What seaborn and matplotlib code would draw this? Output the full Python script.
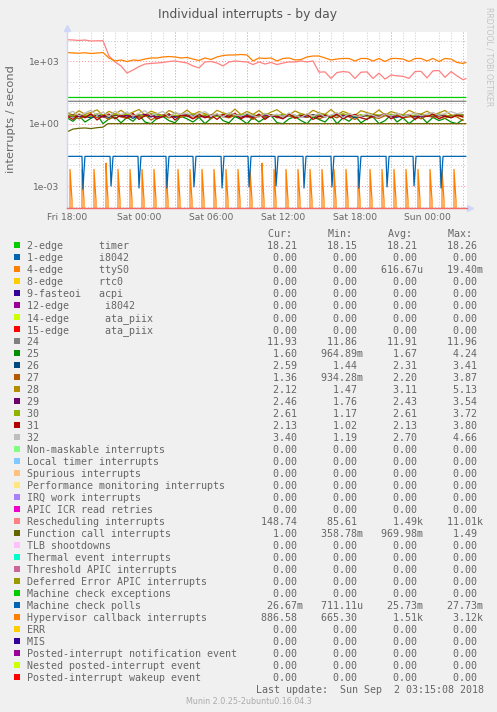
import numpy as np
import pandas as pd
import matplotlib
matplotlib.use("Agg")
import matplotlib.pyplot as plt
from matplotlib.patches import Rectangle
from matplotlib.ticker import NullFormatter
import seaborn as sns

W, H = 497, 712

# axis ticks (x in hours since Fri 18:00)
x_ticks = [0, 6, 12, 18, 24, 30]
x_tick_labels = ["Fri 18:00", "Sat 00:00", "Sat 06:00", "Sat 12:00", "Sat 18:00", "Sun 00:00"]
y_ticks = [1e-3, 1e0, 1e3]
y_tick_labels = ["1e-03", "1e+00", "1e+03"]

# half-hour samples for the busy series
band_hours = np.arange(0, 33.5, 0.5)
top_hours = np.append(band_hours, 33.25)

hyper_vals = [2650, 2520, 2460, 2580, 2380, 2500, 2650, 1450, 1040, 1160,
              980, 1160, 1100, 1290, 1450, 1450, 1620, 1700, 1620, 1450,
              1530, 1290, 1100, 1450, 1220, 1620, 1900, 2020, 2020, 2130,
              2020, 1040, 1450, 1370, 1450, 1040, 1370, 1450, 1160, 1220,
              1620, 1800, 1800, 1450, 1160, 1290, 1370, 1370, 1040, 1370,
              1370, 1040, 1370, 980, 1370, 1370, 1290, 980, 1370, 1370,
              1040, 1370, 980, 1370, 1290, 880, 790, 886.58]

resched_vals = [11000, 10600, 10100, 10600, 9500, 9700, 9800, 1800, 930, 600,
                275, 380, 560, 740, 790, 830, 880, 980, 1040, 930,
                830, 600, 480, 930, 980, 830, 600, 930, 1040, 980,
                930, 700, 930, 740, 880, 700, 830, 930, 930, 1040,
                930, 1040, 300, 310, 150, 290, 320, 300, 150, 300,
                310, 150, 270, 140, 220, 200, 190, 150, 320, 330,
                160, 350, 360, 170, 320, 200, 130, 148.74]

irq25 = [1.9, 1.3, 2.4, 1.2, 1.8, 2.7, 1.0, 1.7, 2.1, 1.1,
         2.0, 1.3, 2.6, 1.2, 1.0, 1.8, 2.2, 1.4, 1.1, 2.3,
         1.7, 1.2, 2.0, 1.0, 1.8, 2.9, 1.4, 1.1, 2.2, 1.6,
         1.0, 2.0, 1.2, 1.9, 2.5, 1.1, 1.0, 1.7, 2.2, 1.4,
         1.0, 2.1, 1.6, 1.2, 2.4, 1.0, 1.9, 1.3, 2.3, 1.1,
         1.7, 2.1, 1.0, 1.4, 2.6, 1.2, 1.9, 1.0, 1.7, 2.2,
         1.1, 2.0, 1.4, 1.8, 1.2, 1.0, 1.6]
irq26 = [2.4, 2.1, 2.6, 2.2, 1.9, 2.5, 2.3, 2.0, 2.7, 2.2,
         2.4, 1.8, 2.6, 2.3, 2.1, 2.9, 2.2, 2.4, 2.0, 2.5,
         2.3, 2.7, 2.1, 2.4, 1.9, 2.6, 2.2, 2.5, 2.3, 2.0,
         2.8, 2.2, 2.4, 2.1, 2.6, 2.3, 1.8, 2.5, 2.2, 2.4,
         2.0, 2.7, 2.3, 2.1, 2.5, 2.4, 2.2, 2.6, 1.9, 2.3,
         2.5, 2.1, 2.4, 2.7, 2.2, 2.0, 2.6, 2.3, 2.1, 2.5,
         2.4, 2.2, 2.7, 2.3, 2.0, 2.4, 2.6]
irq27 = [2.0, 2.5, 1.7, 2.3, 2.8, 1.9, 2.2, 1.6, 2.6, 2.1,
         1.8, 2.4, 2.0, 2.7, 1.5, 2.2, 2.5, 1.9, 2.3, 2.0,
         2.6, 1.8, 2.1, 2.4, 1.7, 2.9, 2.2, 1.9, 2.5, 2.0,
         2.3, 1.6, 2.4, 2.1, 2.7, 1.9, 2.2, 2.5, 1.8, 2.3,
         2.0, 2.6, 1.7, 2.2, 2.4, 1.9, 2.8, 2.1, 1.6, 2.3,
         2.5, 2.0, 1.8, 2.4, 2.2, 2.6, 1.9, 2.1, 2.3, 1.7,
         2.4, 2.0, 2.2, 1.8, 2.5, 2.1, 1.4]
irq28 = [3.4, 2.6, 4.2, 2.8, 3.5, 4.6, 2.5, 3.9, 2.9, 4.4,
         2.7, 3.6, 4.8, 2.6, 4.0, 3.1, 2.4, 4.3, 3.2, 2.8,
         4.5, 2.7, 3.8, 3.0, 2.5, 4.4, 3.3, 2.8, 5.0, 2.7,
         3.9, 2.8, 4.3, 2.5, 3.6, 4.7, 2.9, 2.6, 4.1, 3.0,
         2.6, 4.4, 3.3, 2.8, 4.8, 2.7, 3.9, 3.0, 2.5, 4.2,
         3.4, 2.8, 4.6, 2.6, 3.8, 3.1, 2.7, 4.4, 3.2, 2.9,
         4.0, 2.7, 3.3, 4.3, 2.6, 2.4, 2.1]
irq29 = [2.4, 2.6, 2.2, 2.5, 2.3, 2.7, 2.1, 2.4, 2.6, 2.3,
         2.5, 2.2, 2.4, 2.8, 2.3, 2.1, 2.6, 2.4, 2.2, 2.5,
         2.7, 2.3, 2.4, 2.0, 2.5, 2.6, 2.2, 2.4, 2.8, 2.3,
         2.1, 2.5, 2.4, 2.6, 2.3, 2.2, 2.7, 2.4, 2.5, 2.1,
         2.4, 2.6, 2.3, 2.5, 2.2, 2.8, 2.4, 2.3, 2.6, 2.1,
         2.5, 2.3, 2.4, 2.7, 2.2, 2.5, 2.4, 2.6, 2.3, 2.2,
         2.5, 2.4, 2.7, 2.3, 2.4, 2.6, 2.5]
irq30 = [2.7, 2.4, 2.9, 2.5, 2.2, 3.0, 2.6, 2.3, 2.8, 2.5,
         2.9, 2.4, 2.7, 2.2, 3.1, 2.6, 2.4, 2.8, 2.5, 2.3,
         2.6, 3.0, 2.4, 2.7, 2.5, 2.2, 2.9, 2.6, 2.4, 2.8,
         2.5, 2.7, 2.3, 3.1, 2.6, 2.4, 2.8, 2.5, 2.2, 2.9,
         2.6, 2.4, 2.7, 2.8, 2.3, 2.6, 3.0, 2.5, 2.4, 2.7,
         2.2, 2.8, 2.6, 2.5, 2.9, 2.4, 2.7, 2.3, 2.6, 2.8,
         2.5, 2.4, 2.9, 2.6, 2.3, 2.7, 2.6]
irq31 = [2.3, 1.6, 2.8, 1.9, 3.0, 1.5, 2.4, 2.9, 1.7, 2.6,
         1.9, 3.1, 1.6, 2.4, 2.8, 1.7, 2.2, 3.0, 1.5, 2.6,
         2.4, 1.7, 2.9, 1.9, 2.6, 1.6, 2.8, 2.1, 3.2, 1.7,
         2.5, 1.9, 2.9, 1.6, 2.6, 2.1, 1.7, 3.0, 1.9, 2.4,
         2.8, 1.6, 2.2, 2.6, 1.9, 2.9, 1.7, 2.4, 2.8, 1.9,
         1.6, 2.6, 2.1, 3.0, 1.7, 2.4, 1.9, 2.8, 1.6, 2.6,
         2.2, 2.9, 1.7, 2.4, 1.9, 2.6, 2.1]
irq32 = [3.1, 3.9, 2.4, 3.3, 4.4, 2.5, 3.6, 2.2, 4.0, 2.7,
         3.7, 2.3, 3.2, 4.2, 2.5, 3.0, 3.9, 2.1, 3.5, 2.8,
         3.3, 2.2, 3.1, 3.8, 2.4, 3.0, 2.1, 3.4, 2.7, 2.3,
         3.2, 2.4, 2.0, 3.1, 2.3, 2.9, 2.1, 3.3, 2.5, 2.0,
         3.0, 2.3, 3.2, 2.1, 2.6, 3.4, 2.0, 3.0, 2.4, 2.2,
         3.1, 2.5, 2.0, 3.0, 2.3, 3.3, 2.2, 2.7, 3.2, 2.4,
         2.9, 3.5, 2.5, 3.1, 3.8, 3.0, 3.4]

flat_hours = [0, 8, 16, 24, 33.25]
timer_vals = [18.20, 18.22, 18.19, 18.21, 18.21]
irq24_vals = [11.93, 11.90, 11.88, 11.95, 11.93]

fcall_hours = [0, 0.5, 1, 1.5, 2, 2.5, 3, 3.4, 33.25]
fcall_vals = [0.40, 0.55, 0.60, 0.62, 0.58, 0.64, 0.68, 1.00, 1.00]

# machine check polls: flat level with short dips
poll_level = 0.0267
poll_dip_hours = [1.33, 3.67, 6.0, 8.33, 10.58, 12.92, 15.17, 17.42,
                  19.75, 22.08, 24.33, 26.67, 28.92, 31.17]
poll_dip_vals = [0.0007, 0.0010, 0.0008, 0.0008, 0.0009, 0.0008, 0.0009,
                 0.0010, 0.0008, 0.0009, 0.0008, 0.0009, 0.0010, 0.0008]
poll_recover = 0.005

# ttyS0: hourly bursts, zero in between
tty_spike_hours = [0.25, 1.25, 2.25, 3.25, 4.25, 5.25, 6.25, 7.25, 8.25, 9.25,
                   10.25, 11.25, 12.25, 13.25, 14.25, 15.25, 16.25, 17.25, 18.25,
                   19.25, 20.25, 21.25, 22.25, 23.25, 24.25, 25.25, 26.25, 27.25,
                   28.25, 29.25, 30.25, 31.25, 32.25]
tty_spike_vals = [0.0063, 0.0063, 0.0063, 0.0125, 0.0063, 0.0063, 0.0063, 0.0063,
                  0.0063, 0.0063, 0.0063, 0.0063, 0.0063, 0.0063, 0.0063, 0.0063,
                  0.0125, 0.0063, 0.0063, 0.0063, 0.0063, 0.0063, 0.0063, 0.0063,
                  0.0063, 0.0063, 0.0063, 0.0063, 0.0063, 0.0063, 0.0063, 0.0063,
                  0.0063]
tty_tail = [0.0012, 0.0002]

# legend table
legend_names = [
    "2-edge      timer", "1-edge      i8042", "4-edge      ttyS0", "8-edge      rtc0",
    "9-fasteoi   acpi", "12-edge      i8042", "14-edge      ata_piix", "15-edge      ata_piix",
    "24", "25", "26", "27", "28", "29", "30", "31", "32",
    "Non-maskable interrupts", "Local timer interrupts", "Spurious interrupts",
    "Performance monitoring interrupts", "IRQ work interrupts", "APIC ICR read retries",
    "Rescheduling interrupts", "Function call interrupts", "TLB shootdowns",
    "Thermal event interrupts", "Threshold APIC interrupts", "Deferred Error APIC interrupts",
    "Machine check exceptions", "Machine check polls", "Hypervisor callback interrupts",
    "ERR", "MIS", "Posted-interrupt notification event", "Nested posted-interrupt event",
    "Posted-interrupt wakeup event",
]
cur_vals = ["18.21", "0.00", "0.00", "0.00", "0.00", "0.00", "0.00", "0.00",
            "11.93", "1.60", "2.59", "1.36", "2.12", "2.46", "2.61", "2.13", "3.40",
            "0.00", "0.00", "0.00", "0.00", "0.00", "0.00",
            "148.74", "1.00", "0.00", "0.00", "0.00", "0.00", "0.00",
            "26.67m", "886.58", "0.00", "0.00", "0.00", "0.00", "0.00"]
min_vals = ["18.15", "0.00", "0.00", "0.00", "0.00", "0.00", "0.00", "0.00",
            "11.86", "964.89m", "1.44", "934.28m", "1.47", "1.76", "1.17", "1.02", "1.19",
            "0.00", "0.00", "0.00", "0.00", "0.00", "0.00",
            "85.61", "358.78m", "0.00", "0.00", "0.00", "0.00", "0.00",
            "711.11u", "665.30", "0.00", "0.00", "0.00", "0.00", "0.00"]
avg_vals = ["18.21", "0.00", "616.67u", "0.00", "0.00", "0.00", "0.00", "0.00",
            "11.91", "1.67", "2.31", "2.20", "3.11", "2.43", "2.61", "2.13", "2.70",
            "0.00", "0.00", "0.00", "0.00", "0.00", "0.00",
            "1.49k", "969.98m", "0.00", "0.00", "0.00", "0.00", "0.00",
            "25.73m", "1.51k", "0.00", "0.00", "0.00", "0.00", "0.00"]
max_vals = ["18.26", "0.00", "19.40m", "0.00", "0.00", "0.00", "0.00", "0.00",
            "11.96", "4.24", "3.41", "3.87", "5.13", "3.54", "3.72", "3.80", "4.66",
            "0.00", "0.00", "0.00", "0.00", "0.00", "0.00",
            "11.01k", "1.49", "0.00", "0.00", "0.00", "0.00", "0.00",
            "27.73m", "3.12k", "0.00", "0.00", "0.00", "0.00", "0.00"]

legend_colors = ["#00CC00", "#0066B3", "#FF8000", "#FFCC00", "#330099", "#990099", "#CCFF00",
                 "#FF0000", "#808080", "#008F00", "#00487D", "#B35A00", "#B38F00", "#6B006B",
                 "#8FB300", "#B30000", "#BEBEBE", "#80FF80", "#80C9FF", "#FFC080", "#FFE680",
                 "#AA80FF", "#EE00CC", "#FF8080", "#666600", "#FFBFFF", "#00FFCC", "#CC6699",
                 "#999900", "#00CC00", "#0066B3", "#FF8000", "#FFCC00", "#330099", "#990099",
                 "#CCFF00", "#FF0000"]
palette = dict(zip(legend_names, legend_colors))

# ---- assemble long table, in rrdtool drawing order ----
frames = []


def add(name, hours, vals):
    frames.append(pd.DataFrame({"hours": hours, "value": vals, "series": name}))


add("2-edge      timer", flat_hours, timer_vals)

tty_h, tty_v = [0.0], [0.0]
for ts, pv in zip(tty_spike_hours, tty_spike_vals):
    tty_h += [ts - 1 / 12, ts, ts + 1 / 12, ts + 2 / 12, ts + 3 / 12]
    tty_v += [0.0, pv, tty_tail[0], tty_tail[1], 0.0]
tty_h.append(33.25)
tty_v.append(0.0)
add("4-edge      ttyS0", tty_h, tty_v)

add("24", flat_hours, irq24_vals)
for name, vals in zip(["25", "26", "27", "28", "29", "30", "31", "32"],
                      [irq25, irq26, irq27, irq28, irq29, irq30, irq31, irq32]):
    add(name, band_hours, vals)
add("Rescheduling interrupts", top_hours, resched_vals)
add("Function call interrupts", fcall_hours, fcall_vals)

poll_h, poll_v = [0.0], [poll_level]
for td, dv in zip(poll_dip_hours, poll_dip_vals):
    poll_h += [td - 1 / 12, td, td + 1 / 12, td + 2 / 12]
    poll_v += [poll_level, dv, poll_recover, poll_level]
poll_h.append(33.25)
poll_v.append(poll_level)
add("Machine check polls", poll_h, poll_v)

add("Hypervisor callback interrupts", top_hours, hyper_vals)
df = pd.concat(frames, ignore_index=True)
draw_order = list(dict.fromkeys(df["series"]))

# ---- figure ----
sns.set_style("white")
plt.rcParams["font.family"] = ["DejaVu Sans"]
txt = "#666666"

fig = plt.figure(figsize=(W / 100, H / 100), dpi=100, facecolor="#F0F0F0")
ax = fig.add_axes([67 / W, 1 - 208.3 / H, 400 / W, 176.3 / H])
ax.set_facecolor("white")

sns.lineplot(data=df, x="hours", y="value", hue="series", hue_order=draw_order,
             palette=palette, estimator=None, sort=False, legend=False,
             linewidth=0.9, ax=ax)

ax.set_yscale("log", nonpositive="clip")
ax.set_xlim(0, 400 / 12)
ax.set_ylim(10 ** -4.073, 10 ** 4.411)

ax.set_xticks(x_ticks, x_tick_labels)
ax.set_xticks(np.arange(1, 34), minor=True)
ax.set_yticks(y_ticks, y_tick_labels)
ax.set_yticks([1e-4, 1e-2, 1e-1, 1e1, 1e2, 1e4], minor=True)
ax.yaxis.set_minor_formatter(NullFormatter())
ax.set_xlabel("")
ax.set_ylabel("")

dots = (0, (1, 2))
ax.set_axisbelow(True)
ax.grid(False)
ax.grid(which="minor", axis="x", color="#C8C8C8", linestyle=dots, linewidth=0.7)
ax.grid(which="minor", axis="y", color="#C8C8C8", linestyle=dots, linewidth=0.7)
ax.grid(which="major", axis="y", color="#FF9090", linestyle=dots, linewidth=0.7)
for xh in [3, 9, 15, 21, 27, 33]:
    ax.axvline(xh, color="#FF9090", linestyle=dots, linewidth=0.7, zorder=0.5)

ax.tick_params(which="both", length=0, labelsize=6.6, labelcolor=txt)
ax.tick_params(axis="x", pad=3.6)
ax.tick_params(axis="y", pad=5.5)

for side in ["top", "right"]:
    ax.spines[side].set_visible(False)
ax.spines["left"].set_color("#CFD6F8")
ax.spines["left"].set_linewidth(1)
ax.spines["bottom"].set_color("#F46A6A")
ax.spines["bottom"].set_linewidth(1)
ax.plot([0], [1.02], marker="^", markersize=4, color="#CFD6F8",
        transform=ax.transAxes, clip_on=False)
ax.plot([1.008], [0], marker=">", markersize=4, color="#CFD6F8",
        transform=ax.transAxes, clip_on=False)


def fx(px):
    return px / W


def fy(py):
    return 1 - py / H


fig.text(fx(248), fy(18.3), "Individual interrupts - by day", ha="center",
         va="baseline", fontsize=8.9, color="#555555")
fig.text(fx(11), fy(119), "interrupts / second", rotation=90, ha="center",
         va="center", fontsize=8.2, color=txt)
fig.text(fx(489), fy(56.5), "RRDTOOL / TOBI OETIKER", rotation=270, ha="center",
         va="center", fontsize=5.6, color="#C4C4C4")

# legend rows in monospace
mono = "DejaVu Sans Mono"
cw = 6.02
x0 = 26.7
base0 = 249.3
step = 12.0


def field(s):
    return (s if s[-1].isalpha() else s + " ").rjust(10)


fig.text(fx(x0 + 40 * cw), fy(base0 - step), "Cur:      Min:      Avg:      Max:",
         ha="left", va="baseline", family=mono, fontsize=7.2, color=txt)
for i, name in enumerate(legend_names):
    b = base0 + i * step
    row = name.ljust(36) + field(cur_vals[i]) + field(min_vals[i]) + \
        field(avg_vals[i]) + field(max_vals[i])
    fig.text(fx(x0), fy(b), row, ha="left", va="baseline", family=mono,
             fontsize=7.2, color=txt)
    fig.add_artist(Rectangle((fx(14), fy(b - 1)), 6 / W, 6 / H,
                             transform=fig.transFigure, facecolor=legend_colors[i],
                             edgecolor="none"))

b_last = base0 + len(legend_names) * step
fig.text(fx(483.5), fy(b_last), "Last update:  Sun Sep  2 03:15:08 2018",
         ha="right", va="baseline", family=mono, fontsize=7.2, color=txt)
fig.text(fx(248.7), fy(703.5), "Munin 2.0.25-2ubuntu0.16.04.3", ha="center",
         va="baseline", fontsize=5.8, color="#ABABAB")

fig.savefig("out.png", dpi=100, facecolor=fig.get_facecolor())
